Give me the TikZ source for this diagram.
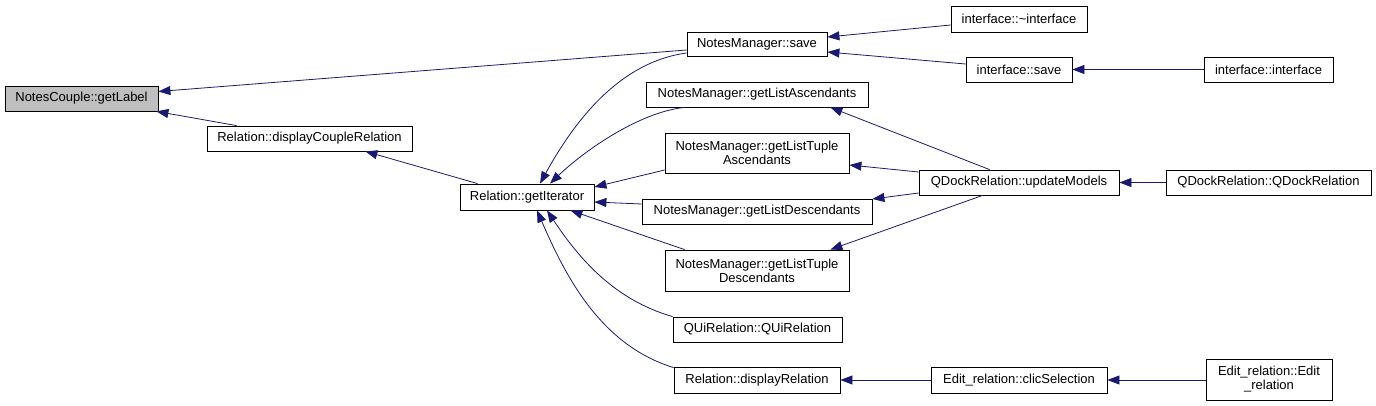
\documentclass[tikz,border=0pt]{standalone}
\usepackage{fontspec}
\setmainfont{Liberation Sans}
\usetikzlibrary{arrows.meta,calc}
\definecolor{edgeblue}{HTML}{191970}
\definecolor{hlgray}{HTML}{BFBFBF}
\begin{document}
\begin{tikzpicture}[x=1pt,y=-1pt,
  fn/.style={draw=black,line width=0.8pt,fill=white,rectangle,inner sep=0pt,align=center,
    font=\fontsize{13}{14}\selectfont},
  edge/.style={draw=edgeblue,line width=0.8pt,-{Triangle[length=12pt,width=9pt]}}]
\useasboundingbox (0,0) rectangle (1376,406);
% nodes
\node[fn,fill=hlgray,minimum width=153pt,minimum height=25pt] (gl) at (81.5,98.5) {NotesCouple::getLabel};
\node[fn,minimum width=205pt,minimum height=25pt] (dcr) at (309.5,138.5) {Relation::displayCoupleRelation};
\node[fn,minimum width=134pt,minimum height=26pt] (gi) at (527,197) {Relation::getIterator};
\node[fn,minimum width=140pt,minimum height=24pt] (nms) at (757,44) {NotesManager::save};
\node[fn,minimum width=222pt,minimum height=25pt] (gla) at (757,94.5) {NotesManager::getListAscendants};
\node[fn,minimum width=184pt,minimum height=40pt] (glta) at (757,153) {NotesManager::getListTuple\\Ascendants};
\node[fn,minimum width=230pt,minimum height=25pt] (gld) at (757,211.5) {NotesManager::getListDescendants};
\node[fn,minimum width=184pt,minimum height=41pt] (gltd) at (757,270.5) {NotesManager::getListTuple\\Descendants};
\node[fn,minimum width=169pt,minimum height=25pt] (qui) at (757.5,329.5) {QUiRelation::QUiRelation};
\node[fn,minimum width=166pt,minimum height=26pt] (dr) at (757,380) {Relation::displayRelation};
\node[fn,minimum width=136pt,minimum height=26pt] (inti) at (1019,19) {interface::\textasciitilde interface};
\node[fn,minimum width=106pt,minimum height=25pt] (ints) at (1019,69.5) {interface::save};
\node[fn,minimum width=129pt,minimum height=25pt] (intint) at (1268.5,69.5) {interface::interface};
\node[fn,minimum width=200pt,minimum height=25pt] (um) at (1019,182.5) {QDockRelation::updateModels};
\node[fn,minimum width=205pt,minimum height=25pt] (qdr) at (1268.5,182.5) {QDockRelation::QDockRelation};
\node[fn,minimum width=176pt,minimum height=26pt] (cs) at (1019,380) {Edit\_relation::clicSelection};
\node[fn,minimum width=126pt,minimum height=41pt] (er) at (1269,379.5) {Edit\_relation::Edit\\\_relation};
% edges
\draw[edge] ($(nms.west)+(0,6)$) -- ($(gl.east)+(0,-7)$);
\draw[edge] ($(dcr.north west)+(30,0)$) -- ($(gl.south east)+(-2,0)$);
\draw[edge] ($(gi.north west)+(18,0)$) -- ($(dcr.south east)+(-47,0)$);
\draw[edge] ($(nms.west)+(0,9)$) .. controls (620,62) and (575,120) .. ($(gi.north)+(13,0)$);
\draw[edge] ($(gla.south west)+(39,0)$) .. controls (640,112) and (585,150) .. ($(gi.north)+(23,0)$);
\draw[edge] ($(glta.west)+(0,17)$) -- ($(gi.east)+(0,-10)$);
\draw[edge] ($(gld.west)+(0,-7.5)$) -- ($(gi.east)+(0,5)$);
\draw[edge] ($(gltd.north west)+(20,0)$) -- ($(gi.south east)+(-24,0)$);
\draw[edge] (qui.north west) .. controls (615,300) and (580,260) .. ($(gi.south)+(20,0)$);
\draw[edge] ($(dr.north west)+(0,1)$) .. controls (600,345) and (565,275) .. ($(gi.south)+(10,0)$);
\draw[edge] ($(inti.west)+(0,6)$) -- ($(nms.east)+(0,-7)$);
\draw[edge] ($(ints.west)+(0,-5.5)$) -- ($(nms.east)+(0,8)$);
\draw[edge] (intint) -- (ints);
\draw[edge] ($(um.north west)+(71,0)$) -- ($(gla.south east)+(-38,0)$);
\draw[edge] ($(um.west)+(0,-10.5)$) -- ($(glta.east)+(0,12)$);
\draw[edge] ($(um.west)+(0,10.5)$) -- ($(gld.east)+(0,-12.5)$);
\draw[edge] ($(um.south west)+(64,0)$) -- ($(gltd.north east)+(-19,0)$);
\draw[edge] (qdr) -- (um);
\draw[edge] (cs) -- (dr);
\draw[edge] (er.west |- cs.east) -- (cs);
\end{tikzpicture}
\end{document}
